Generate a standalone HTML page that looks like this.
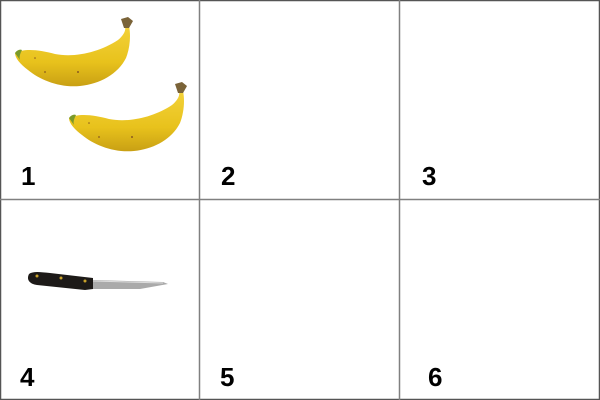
<!DOCTYPE html>
<html><head><meta charset="utf-8"><style>
html,body{margin:0;padding:0;background:#fff;}
svg{display:block;}
text{font-family:"Liberation Sans",Arial,sans-serif;font-weight:bold;font-size:26px;fill:#000;}
</style></head><body>
<svg width="600" height="400" viewBox="0 0 600 400">
  <rect x="0.5" y="0.5" width="599" height="399" fill="#fff" stroke="#555" stroke-width="1.5"/>
  <line x1="199.5" y1="0" x2="199.5" y2="400" stroke="#808080" stroke-width="1.5"/>
  <line x1="399.5" y1="0" x2="399.5" y2="400" stroke="#808080" stroke-width="1.5"/>
  <line x1="0" y1="199.5" x2="600" y2="199.5" stroke="#808080" stroke-width="1.5"/>

  <defs>
    <linearGradient id="bg" x1="0" y1="0" x2="0" y2="1">
      <stop offset="0" stop-color="#f3d23a"/>
      <stop offset="0.6" stop-color="#e8c21c"/>
      <stop offset="1" stop-color="#c9a014"/>
    </linearGradient>
  </defs>
  <g id="banana">
    <path d="M15,53 C25,48 40,50 55,54 C75,58 100,52 118,40 C124,35 126,30 125,27 L129,26 C131,35 130,48 126,58 C118,74 100,84 80,86 C60,88 40,80 28,70 C20,64 15,58 15,53 Z" fill="url(#bg)"/>
    <path d="M15,53 C17,50 20,49 22,50 C20,54 19,57 20,60 Z" fill="#7a9a2a"/>
    <path d="M124,28 L121,19 L128,17 L133,21 L129,28 Z" fill="#7a6338"/>
    <circle cx="45" cy="72" r="0.9" fill="#8a5a20"/><circle cx="78" cy="72" r="1" fill="#8a5a20"/><circle cx="35" cy="58" r="0.8" fill="#8a5a20"/>
  </g>
  <use href="#banana" transform="translate(54,65)"/>

  <g>
    <path d="M93,280 L163,282 L168,284 L140,289 L93,289 Z" fill="#aaa"/>
    <path d="M93,281 L163,283" stroke="#ddd" stroke-width="1"/>
    <path d="M29,274 C33,271 40,272 50,273 L93,278 L93,289 L85,290 L37,285 C30,284 26,280 29,274 Z" fill="#1d1a18"/>
    <circle cx="37" cy="276" r="1.5" fill="#c9a22a"/><circle cx="61" cy="278" r="1.5" fill="#c9a22a"/><circle cx="85" cy="281" r="1.5" fill="#c9a22a"/>
  </g>

  <text x="21" y="185">1</text>
  <text x="221" y="185">2</text>
  <text x="422" y="185">3</text>
  <text x="20" y="386">4</text>
  <text x="220" y="386">5</text>
  <text x="428" y="386">6</text>
</svg>
</body></html>
